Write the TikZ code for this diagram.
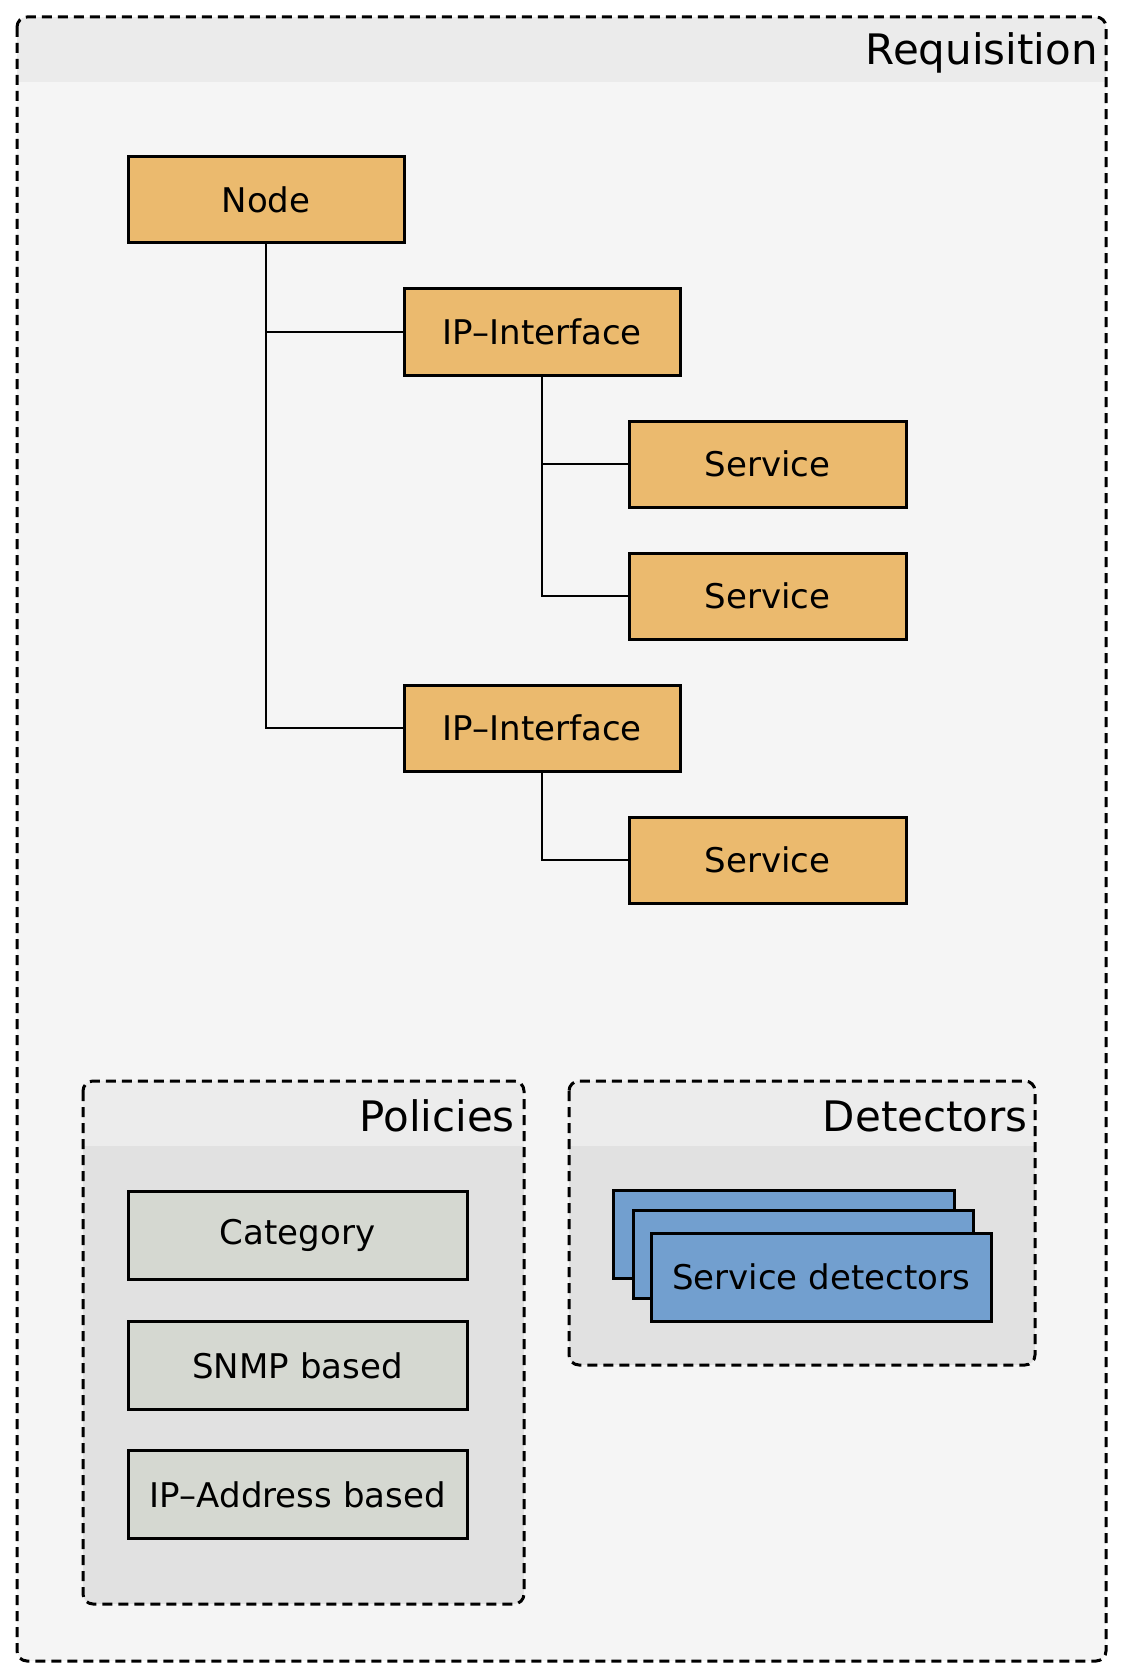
\documentclass[tikz,border=0pt]{standalone}
\usepackage{fontspec}
\setmainfont{DejaVu Sans}
\definecolor{outerbody}{HTML}{F5F5F5}
\definecolor{outerhead}{HTML}{EBEBEB}
\definecolor{innerbody}{HTML}{E1E1E1}
\definecolor{innerhead}{HTML}{ECECEC}
\definecolor{orangefill}{HTML}{EBBA6E}
\definecolor{grayfill}{HTML}{D5D8D1}
\definecolor{bluefill}{HTML}{729FCF}
\tikzset{
  box/.style={draw=black, line width=3pt, inner sep=0pt, minimum width=276pt, minimum height=86pt, font=\fontsize{34}{40}\selectfont},
  obox/.style={box, fill=orangefill},
  pbox/.style={box, fill=grayfill, minimum width=339pt, minimum height=88pt},
  dbox/.style={box, fill=bluefill, minimum width=340pt, minimum height=88pt},
  conn/.style={draw=black, line width=2.3pt},
  frame/.style={draw=black, line width=3pt, dash pattern=on 10pt off 6pt, rounded corners=10pt},
  title/.style={font=\fontsize{42}{48}\selectfont, inner sep=0pt, anchor=base east}
}
\begin{document}
\begin{tikzpicture}[x=1pt,y=-1pt]
\useasboundingbox (0,0) rectangle (1122,1677);
% outer frame
\begin{scope}
\clip[rounded corners=10pt] (17,17) rectangle (1106,1661);
\fill[outerbody] (17,17) rectangle (1106,1661);
\fill[outerhead] (17,17) rectangle (1106,82);
\end{scope}
\draw[frame] (17,17) rectangle (1106,1661);
\node[title] (reqtitle) at (1098,65) {Requisition};
% policies frame
\begin{scope}
\clip[rounded corners=10pt] (83,1081) rectangle (524,1604);
\fill[innerbody] (83,1081) rectangle (524,1604);
\fill[innerhead] (83,1081) rectangle (524,1146);
\end{scope}
\draw[frame] (83,1081) rectangle (524,1604);
\node[title] (poltitle) at (515,1131) {Policies};
% detectors frame
\begin{scope}
\clip[rounded corners=10pt] (569,1081) rectangle (1035,1365);
\fill[innerbody] (569,1081) rectangle (1035,1365);
\fill[innerhead] (569,1081) rectangle (1035,1146);
\end{scope}
\draw[frame] (569,1081) rectangle (1035,1365);
\node[title] (dettitle) at (1028,1131) {Detectors};
% tree nodes
\node[obox] (node) at (266,200) {Node};
\node[obox] (ip1) at (542,332) {IP–Interface};
\node[obox, minimum width=277pt] (s1) at (767.5,464) {Service};
\node[obox, minimum width=277pt] (s2) at (767.5,596) {Service};
\node[obox] (ip2) at (542,728) {IP–Interface};
\node[obox, minimum width=277pt] (s3) at (767.5,860) {Service};
% connectors
\draw[conn] (node.south) |- (ip2.west);
\draw[conn] (node.south |- ip1.west) -- (ip1.west);
\draw[conn] (ip1.south) |- (s2.west);
\draw[conn] (ip1.south |- s1.west) -- (s1.west);
\draw[conn] (ip2.south) |- (s3.west);
% policies
\node[pbox] (cat) at (297.5,1235) {Category};
\node[pbox] (snmp) at (297.5,1365.5) {SNMP based};
\node[pbox] (ipaddr) at (297.5,1494.5) {IP–Address based};
% detectors
\node[dbox, minimum width=341pt] (detback) at (783.5,1234) {};
\node[dbox] (detmid) at (803,1254) {};
\node[dbox] (detfront) at (821,1277) {Service detectors};
\end{tikzpicture}
\end{document}
